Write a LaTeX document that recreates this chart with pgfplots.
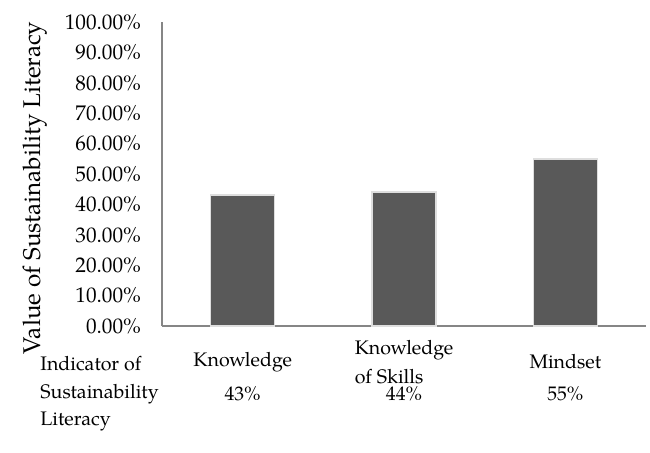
\documentclass[border=0pt]{standalone}
\usepackage{fontspec}
\setmainfont{texgyrepagella-regular.otf}
\usepackage{pgfplots}
\pgfplotsset{compat=1.18}
\definecolor{barfill}{RGB}{89,89,89}
\definecolor{axisgray}{RGB}{134,134,134}
\definecolor{halo}{RGB}{222,222,222}
\begin{document}
\begin{tikzpicture}
\begin{axis}[
  at={(0,0)}, anchor=south west,
  scale only axis, width=242pt, height=152pt,
  xmin=-0.5, xmax=2.5, ymin=0, ymax=100,
  ytick={0,10,...,100},
  yticklabel={\pgfmathprintnumber[fixed,fixed zerofill,precision=2]{\tick}\%},
  /pgf/number format/assume math mode=true,
  axis x line*=bottom, axis y line*=left,
  axis line style={-, draw=axisgray, line width=0.8pt},
  major tick length=0,
  xtick={0,1,2},
  xticklabels={Knowledge, Knowledge\\of Skills, Mindset},
  xticklabel style={align=left, anchor=center, yshift=-18pt, font=\fontsize{9.8}{14.5}\selectfont},
  extra x ticks={0,1,2},
  extra x tick labels={43\%,44\%,55\%},
  extra x tick style={xticklabel style={yshift=-16pt}},
  yticklabel style={anchor=east, xshift=-7pt, font=\fontsize{10.6}{14.5}\selectfont},
  tick label style={text=black},
  ylabel={Value of Sustainability Literacy},
  ylabel style={at={(axis description cs:-0.262,0.454)}, anchor=center, font=\fontsize{12.1}{14}\selectfont},
  clip=false,
]
\addplot[ybar, bar width=32pt, fill=barfill, draw=halo, line width=0.8pt] coordinates {(0,43) (1,44) (2,55)};
\node[align=left, anchor=west, inner sep=0pt, font=\fontsize{9.8}{13.75}\selectfont] at (axis description cs:-0.252,-0.2237) {Indicator of\\Sustainability\\Literacy};
\end{axis}
\pgfresetboundingbox
\path[use as bounding box] (-81pt,-63pt) rectangle (244pt,163pt);
\end{tikzpicture}
\end{document}
